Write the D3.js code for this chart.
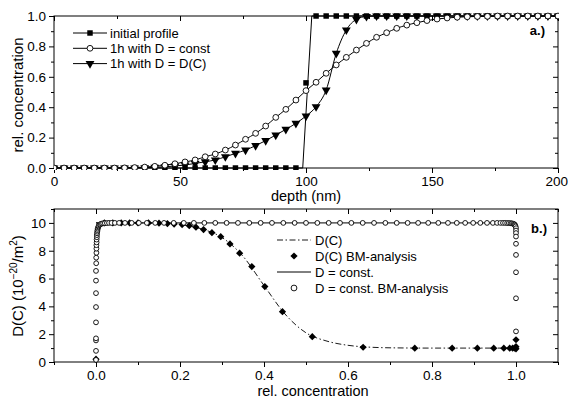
<!DOCTYPE html>
<html><head><meta charset="utf-8">
<script src="https://cdn.jsdelivr.net/npm/d3@7"></script>
<style>
body{margin:0;background:#fff;}
svg{display:block;font-family:"Liberation Sans",Arial,sans-serif;}
</style></head>
<body>
<svg id="c" width="568" height="400"></svg>
<script>
// ---------- Panel a data ----------
const depth = [0,4,8,12,16,20,24,28,32,36,40,44,48,52,56,60,64,68,72,76,80,84,88,92,96,100,104,108,112,116,120,124,128,132,136,140,144,148,152,156,160,164,168,172,176,180,184,188,192,196,200];
const initialProfile = [0,0,0,0,0,0,0,0,0,0,0,0,0,0,0,0,0,0,0,0,0,0,0,0,0,0.56,1,1,1,1,1,1,1,1,1,1,1,1,1,1,1,1,1,1,1,1,1,1,1,1,1];
const initialLineDepth = [0,98.7,102.3,200];
const initialLineConc = [0,0,1,1];
const constProfile = [0,0,0,0,0,0,0,0.001,0.003,0.006,0.011,0.018,0.028,0.04,0.053,0.074,0.092,0.118,0.151,0.189,0.228,0.276,0.333,0.386,0.447,0.509,0.564,0.623,0.678,0.728,0.776,0.82,0.86,0.89,0.919,0.94,0.956,0.97,0.98,0.987,0.992,0.995,0.997,0.998,1,1,1,1,1,1,1];
const dcProfile = [0,0,0,0,0,0,0,0,0,0.002,0.004,0.008,0.013,0.02,0.03,0.041,0.053,0.074,0.096,0.118,0.147,0.18,0.217,0.254,0.294,0.342,0.403,0.513,0.754,0.908,0.978,0.997,1,1,1,1,1,1,1,1,1,1,1,1,1,1,1,1,1,1,1];
const legendA = ["initial profile","1h with D = const","1h with D = D(C)"];
const xTicksA = [0,50,100,150,200];
const yTicksA = [0,0.2,0.4,0.6,0.8,1.0];

// ---------- Panel b data ----------
const constC = [0,0,0,0,0,0,0,0,0,0.0005,0.0005,0.001,0.001,0.001,0.0015,0.0015,0.002,0.002,0.0025,0.003,0.0035,0.004,0.005,0.006,0.007,0.009,0.011,0.014,0.017,0.021,0.026,0.031,0.037,0.045,0.055,0.069,0.085,0.102,0.121,0.141,0.162,0.185,0.209,0.233,0.258,0.284,0.311,0.338,0.365,0.392,0.419,0.446,0.473,0.5,0.527,0.554,0.581,0.608,0.635,0.662,0.689,0.716,0.742,0.767,0.791,0.815,0.838,0.859,0.879,0.898,0.915,0.931,0.945,0.955,0.963,0.969,0.974,0.979,0.983,0.987,0.99,0.993,0.995,0.997,0.998,0.999,1,1,1,1,1,1,1,1,1];
const constD = [0.15,0.8,1.55,1.7,2.85,3.95,4.95,5.85,6.55,7.1,7.5,7.85,8.15,8.4,8.6,8.8,8.97,9.12,9.25,9.37,9.48,9.58,9.67,9.75,9.82,9.88,9.92,9.95,9.97,9.98,9.99,10,10,10,10,10,10,10,10,10,10,10,10,10,10,10,10,10,10,10,10,10,10,10,10,10,10,10,10,10,10,10,10,10,10,10,10,10,10,10,10,10,10,10,10,10,10,9.99,9.99,9.98,9.97,9.95,9.92,9.88,9.82,9.75,9.62,9.45,9.27,9.02,8.5,7.7,6.45,4.58,2.2];
const bmC = [0,0.02,0.04,0.06,0.08,0.1,0.125,0.15,0.17,0.186,0.205,0.222,0.238,0.256,0.276,0.297,0.319,0.342,0.371,0.402,0.444,0.515,0.636,0.759,0.848,0.908,0.947,0.971,0.985,0.992,0.997,1,1,1];
const bmD = [0.2,10,10,10,10,10,10,9.98,9.95,9.92,9.88,9.8,9.69,9.52,9.3,9.01,8.49,7.82,6.86,5.42,3.62,1.82,1.06,0.99,0.99,0.99,0.99,0.99,0.99,0.99,0.99,0.95,1.1,1.6];
const dcLineC = [0,0.1,0.15,0.2,0.25,0.3,0.35,0.4,0.45,0.5,0.55,0.6,0.65,0.7,0.8,1.0];
const dcLineD = [10,10,9.98,9.88,9.58,8.95,7.6,5.5,3.45,2.1,1.5,1.2,1.07,1.02,1.0,1.0];
const constLineC = [0,1];
const constLineD = [10,10];
const legendB = ["D(C)","D(C) BM-analysis","D = const.","D = const. BM-analysis"];
const xTicksB = [0,0.2,0.4,0.6,0.8,1.0];
const yTicksB = [0,2,4,6,8,10];

const svg = d3.select("#c");
const FS = 13.5;

function frame(x, y, majX, minX, majY, minY, fmtX, fmtY){
  const g = svg.append("g");
  const [x0,x1] = x.range(), [y0,y1] = y.range();
  g.append("rect").attr("x",x0).attr("y",y1).attr("width",x1-x0).attr("height",y0-y1)
    .attr("fill","none").attr("stroke","#000").attr("stroke-width",1);
  const ga = g.append("g").attr("transform",`translate(0,${y0})`)
    .call(d3.axisBottom(x).tickValues(majX).tickSize(5).tickFormat(fmtX).tickPadding(3));
  ga.select(".domain").remove();
  ga.selectAll("text").attr("font-size",FS).attr("font-family","Liberation Sans, Arial, sans-serif").attr("fill","#000")
    .attr("dx",d=>x(d) > 550 ? -1.8 : 0);
  g.append("g").attr("transform",`translate(0,${y0})`).call(d3.axisBottom(x).tickValues(minX).tickSize(3).tickFormat("")).select(".domain").remove();
  g.append("g").attr("transform",`translate(0,${y1})`).call(d3.axisBottom(x).tickValues(majX).tickSize(5).tickFormat("")).select(".domain").remove();
  g.append("g").attr("transform",`translate(0,${y1})`).call(d3.axisBottom(x).tickValues(minX).tickSize(3).tickFormat("")).select(".domain").remove();
  const ly = g.append("g").attr("transform",`translate(${x0},0)`)
    .call(d3.axisLeft(y).tickValues(majY).tickSize(5).tickFormat(fmtY).tickPadding(3));
  ly.select(".domain").remove();
  ly.selectAll("text").attr("font-size",FS).attr("font-family","Liberation Sans, Arial, sans-serif").attr("fill","#000");
  g.append("g").attr("transform",`translate(${x0},0)`).call(d3.axisLeft(y).tickValues(minY).tickSize(3).tickFormat("")).select(".domain").remove();
  g.append("g").attr("transform",`translate(${x1},0)`).call(d3.axisLeft(y).tickValues(majY).tickSize(5).tickFormat("")).select(".domain").remove();
  g.append("g").attr("transform",`translate(${x1},0)`).call(d3.axisLeft(y).tickValues(minY).tickSize(3).tickFormat("")).select(".domain").remove();
  g.selectAll(".tick line").attr("stroke","#000");
}

// ---------- Panel a ----------
const xa = d3.scaleLinear().domain([0,200]).range([54,558]);
const ya = d3.scaleLinear().domain([0,1]).range([168,16]);
frame(xa, ya, xTicksA, [25,75,125,175], yTicksA, [0.1,0.3,0.5,0.7,0.9],
  d3.format("d"), d3.format(".1f"));

svg.append("defs").append("clipPath").attr("id","clipA")
  .append("rect").attr("x",54).attr("y",10).attr("width",505).attr("height",160);

const ga = svg.append("g").attr("clip-path","url(#clipA)");
const lineA = d3.line().x(d=>xa(d[0])).y(d=>ya(d[1]));
ga.append("path").datum(initialLineDepth.map((d,i)=>[d,initialLineConc[i]]))
  .attr("d",lineA).attr("fill","none").attr("stroke","#000").attr("stroke-width",1);
const lineAc = d3.line().x(d=>xa(d[0])).y(d=>ya(d[1])).curve(d3.curveMonotoneX);
ga.append("path").datum(depth.map((d,i)=>[d,constProfile[i]]))
  .attr("d",lineAc).attr("fill","none").attr("stroke","#000").attr("stroke-width",1);
ga.append("path").datum(depth.map((d,i)=>[d,dcProfile[i]]))
  .attr("d",lineAc).attr("fill","none").attr("stroke","#000").attr("stroke-width",1);

const sq = d3.symbol().type(d3.symbolSquare).size(30);
const tri = d3.symbol().type(d3.symbolTriangle).size(34);
ga.selectAll(".sq").data(depth).join("path")
  .attr("transform",(d,i)=>`translate(${xa(d)},${ya(initialProfile[i])})`).attr("d",sq).attr("fill","#000");
ga.selectAll(".tr").data(depth).join("path")
  .attr("transform",(d,i)=>`translate(${xa(d)},${ya(dcProfile[i])}) rotate(180)`).attr("d",tri).attr("fill","#000");
ga.selectAll(".ci").data(depth).join("circle")
  .attr("cx",d=>xa(d)).attr("cy",(d,i)=>ya(constProfile[i])).attr("r",2.9)
  .attr("fill","#fff").attr("stroke","#000").attr("stroke-width",0.9);

const legA = svg.append("g");
legendA.forEach((t,i)=>{
  const yy = 33 + i*15.3;
  legA.append("line").attr("x1",73).attr("x2",107).attr("y1",yy).attr("y2",yy).attr("stroke","#000");
  if(i===0) legA.append("path").attr("transform",`translate(90,${yy})`).attr("d",sq).attr("fill","#000");
  if(i===1) legA.append("circle").attr("cx",90).attr("cy",yy).attr("r",2.9).attr("fill","#fff").attr("stroke","#000").attr("stroke-width",0.9);
  if(i===2) legA.append("path").attr("transform",`translate(90,${yy}) rotate(180)`).attr("d",tri).attr("fill","#000");
  legA.append("text").attr("x",110).attr("y",yy+4.5).attr("font-size",13).text(t);
});
svg.append("text").attr("x",545).attr("y",35).attr("text-anchor","end").attr("font-size",13).attr("font-weight","bold").text("a.)");

svg.append("text").attr("x",306).attr("y",201).attr("text-anchor","middle").attr("font-size",14.5).text("depth (nm)");
svg.append("text").attr("transform","translate(23,95) rotate(-90)").attr("text-anchor","middle").attr("font-size",15).text("rel. concentration");

// ---------- Panel b ----------
const xb = d3.scaleLinear().domain([-0.1,1.1]).range([54,558]);
const yb = d3.scaleLinear().domain([0,11]).range([362,209]);
frame(xb, yb, xTicksB, [-0.1,0.1,0.3,0.5,0.7,0.9,1.1], yTicksB, [1,3,5,7,9,11],
  d3.format(".1f"), d3.format("d"));

const gb = svg.append("g");
const lineB = d3.line().x(d=>xb(d[0])).y(d=>yb(d[1]));
gb.append("path").datum(constLineC.map((c,i)=>[c,constLineD[i]]))
  .attr("d",lineB).attr("fill","none").attr("stroke","#000").attr("stroke-width",1);
gb.append("path").datum(dcLineC.map((c,i)=>[c,dcLineD[i]]))
  .attr("d",d3.line().x(d=>xb(d[0])).y(d=>yb(d[1])).curve(d3.curveMonotoneX))
  .attr("fill","none").attr("stroke","#000").attr("stroke-width",0.9)
  .attr("stroke-dasharray","6,2.5,1.5,2.5");
const dia = d3.symbol().type(d3.symbolSquare).size(26);
gb.selectAll(".dm").data(bmC).join("path")
  .attr("transform",(c,i)=>`translate(${xb(c)},${yb(bmD[i])}) rotate(45)`).attr("d",dia).attr("fill","#000");
gb.selectAll(".cc").data(constC).join("circle")
  .attr("cx",c=>xb(c)).attr("cy",(c,i)=>yb(constD[i])).attr("r",2.4)
  .attr("fill","#fff").attr("stroke","#000").attr("stroke-width",0.9);

const legB = svg.append("g");
legendB.forEach((t,i)=>{
  const yy = 240 + i*16;
  if(i===0) legB.append("line").attr("x1",277).attr("x2",311).attr("y1",yy).attr("y2",yy).attr("stroke","#000").attr("stroke-width",0.9).attr("stroke-dasharray","6,2.5,1.5,2.5");
  if(i===1) legB.append("path").attr("transform",`translate(294,${yy}) rotate(45)`).attr("d",dia).attr("fill","#000");
  if(i===2) legB.append("line").attr("x1",277).attr("x2",311).attr("y1",yy).attr("y2",yy).attr("stroke","#000");
  if(i===3) legB.append("circle").attr("cx",294).attr("cy",yy).attr("r",2.9).attr("fill","#fff").attr("stroke","#000").attr("stroke-width",0.9);
  legB.append("text").attr("x",315).attr("y",yy+4.5).attr("font-size",13).text(t);
});
svg.append("text").attr("x",547).attr("y",233).attr("text-anchor","end").attr("font-size",13).attr("font-weight","bold").text("b.)");

svg.append("text").attr("x",313).attr("y",396).attr("text-anchor","middle").attr("font-size",14.5).text("rel. concentration");
const yl = svg.append("text").attr("transform","translate(23,286) rotate(-90)").attr("text-anchor","middle").attr("font-size",15);
yl.append("tspan").text("D(C) (10");
yl.append("tspan").attr("dy",-6).attr("font-size",10).text("−20");
yl.append("tspan").attr("dy",6).text("/m");
yl.append("tspan").attr("dy",-6).attr("font-size",10).text("2");
yl.append("tspan").attr("dy",6).text(")");
</script>
</body></html>
